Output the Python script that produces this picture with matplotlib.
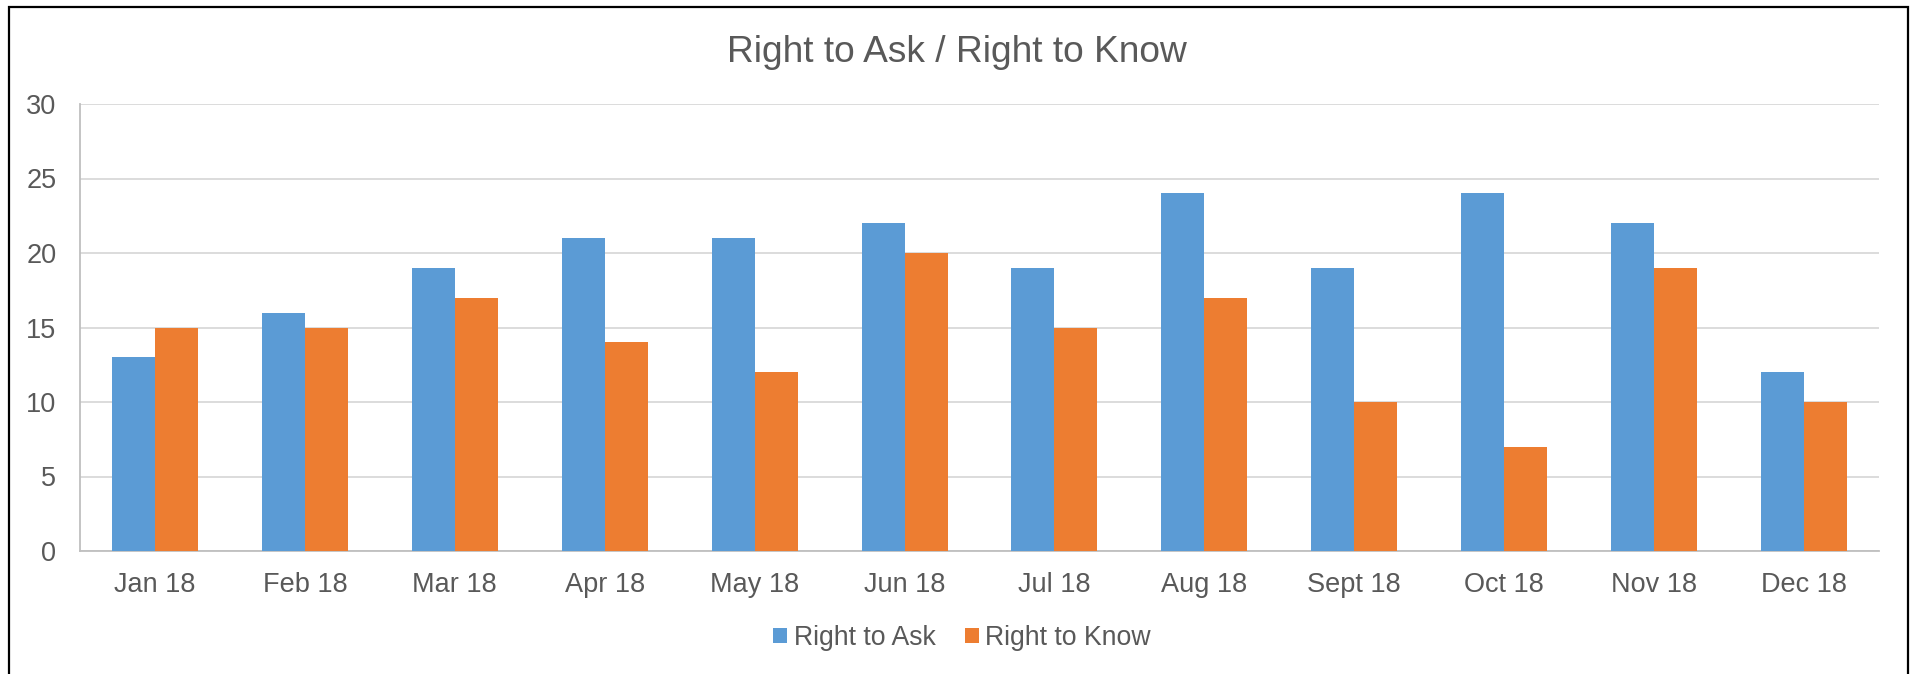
import matplotlib
matplotlib.use("Agg")
import matplotlib.pyplot as plt
from matplotlib.patches import Rectangle
import numpy as np

months = ["Jan 18", "Feb 18", "Mar 18", "Apr 18", "May 18", "Jun 18",
          "Jul 18", "Aug 18", "Sept 18", "Oct 18", "Nov 18", "Dec 18"]
right_to_ask = [13, 16, 19, 21, 21, 22, 19, 24, 19, 24, 22, 12]
right_to_know = [15, 15, 17, 14, 12, 20, 15, 17, 10, 7, 19, 10]

plt.rcParams["font.family"] = ["Liberation Sans", "DejaVu Sans"]
text_col = "#595959"
W, H = 1914, 674

fig = plt.figure(figsize=(W / 100, H / 100), dpi=100)
ax = fig.add_axes([80 / W, (H - 551) / H, (1879 - 80) / W, (551 - 104) / H])

x = np.arange(len(months))
bw = 0.287
ax.bar(x - bw / 2, right_to_ask, bw, color="#5B9BD5", label="Right to Ask", zorder=3)
ax.bar(x + bw / 2, right_to_know, bw, color="#ED7D31", label="Right to Know", zorder=3)

ax.set_xlim(-0.5, len(months) - 0.5)
ax.set_ylim(0, 30)
ax.set_yticks(range(0, 31, 5))
ax.set_xticks(x)
ax.set_xticklabels(months)
ax.tick_params(axis="both", length=0, labelsize=19.5, colors=text_col)
ax.tick_params(axis="y", pad=17)
ax.tick_params(axis="x", pad=15)
ax.grid(axis="y", color="#D9D9D9", linewidth=1.3, zorder=0)
for s in ["top", "right"]:
    ax.spines[s].set_visible(False)
for s in ["left", "bottom"]:
    ax.spines[s].set_color("#BFBFBF")
    ax.spines[s].set_linewidth(1.3)

fig.text(0.5, 1 - 52 / H, "Right to Ask / Right to Know", ha="center", va="center",
         fontsize=26.7, color=text_col)

fig.legend(loc="center", bbox_to_anchor=(962 / W, 1 - 638 / H), ncol=2, frameon=False,
           fontsize=19.2, labelcolor=text_col, handlelength=0.52, handleheight=0.52,
           handletextpad=0.25, columnspacing=1.1)

# outer frame of the chart
fig.patches.append(Rectangle((9 / W, -0.05), (1908 - 9) / W, 1.05 - 7 / H,
                             transform=fig.transFigure, fill=False,
                             edgecolor="black", linewidth=1.6))

fig.savefig("out.png", dpi=100)
